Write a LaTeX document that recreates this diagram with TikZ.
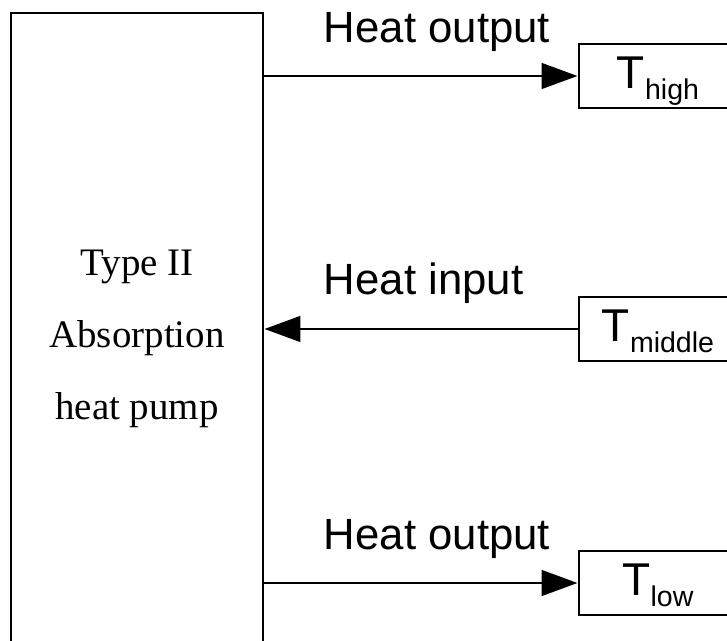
\documentclass[tikz,border=0pt]{standalone}
\usepackage{fontspec}
\setmainfont{Liberation Serif}
\newfontfamily\arialfont{Liberation Sans}
\usetikzlibrary{arrows.meta,positioning,calc}
\newcommand\tsub[1]{\raisebox{-7.8pt}{\fontsize{20.3pt}{24pt}\selectfont #1}}

\begin{document}
\begin{tikzpicture}[>={Triangle[length=9mm,width=6.4mm]}, line width=2.1pt,
  pumpbox/.style={draw, minimum width=63mm, minimum height=163mm, align=center,
    font=\fontsize{27.7pt}{51.2pt}\selectfont},
  tempbox/.style={draw, minimum width=39.5mm, minimum height=16mm, inner sep=0pt,
    text height=8.25mm, text depth=1.75mm, font=\arialfont\fontsize{32.7pt}{36pt}\selectfont},
  flowlabel/.style={anchor=base west, inner sep=0pt, font=\arialfont\fontsize{31.1pt}{36pt}\selectfont}]
  \clip (0,0) rectangle (18.175,16.025);
  % heat pump
  \node[pumpbox] (pump) at (3.425,7.55) {Type II\\Absorption\\heat pump};
  % temperature levels
  \node[tempbox] (thigh) at (16.45,14.125) {T\tsub{high}};
  \node[tempbox] (tmid) at (16.45,7.8) {T\tsub{middle}};
  \node[tempbox] (tlow) at (16.45,1.45) {T\tsub{low}};
  \draw[->] (pump.east |- thigh.west) -- (thigh.west);
  \draw[->] (tmid.west) -- (pump.east |- tmid.west);
  \draw[->] (pump.east |- tlow.west) -- (tlow.west);
  \node[flowlabel] (outhigh) at ($(pump.east |- thigh.west)+(1.45,0.825)$) {Heat output};
  \node[flowlabel] (inmid) at ($(pump.east |- tmid.west)+(1.45,0.85)$) {Heat input};
  \node[flowlabel] (outlow) at ($(pump.east |- tlow.west)+(1.45,0.825)$) {Heat output};
\end{tikzpicture}
\end{document}
